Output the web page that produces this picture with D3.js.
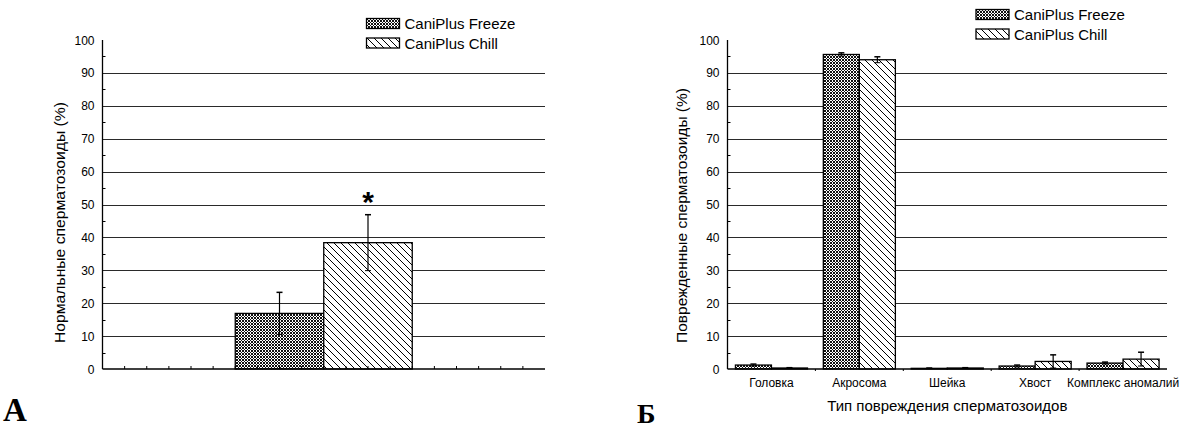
<!DOCTYPE html>
<html>
<head>
<meta charset="utf-8">
<script src="https://cdn.jsdelivr.net/npm/d3@7"></script>
<style>
  body { margin: 0; background: #fff; }
  text { font-family: Arial, "Liberation Sans", sans-serif; fill: #000; }
</style>
</head>
<body>
<svg id="chart" width="1182" height="429"></svg>
<script>
// data
const seriesNames = ["CaniPlus Freeze", "CaniPlus Chill"];
const yTicks = [0, 10, 20, 30, 40, 50, 60, 70, 80, 90, 100];

// panel A: normal sperm, one group
const normalMean = [16.9, 38.4];
const normalErr = [6.4, 8.5];

// panel B: damage types
const damageTypes = ["Головка", "Акросома", "Шейка", "Хвост", "Комплекс аномалий"];
const freezeDamage = [1.2, 95.6, 0.2, 0.9, 1.8];
const freezeErr = [0.3, 0.5, 0.1, 0.3, 0.3];
const chillDamage = [0.3, 94.0, 0.3, 2.3, 3.0];
const chillErr = [0.1, 0.9, 0.1, 2.0, 2.1];

const svg = d3.select("#chart");

// patterns
const defs = svg.append("defs");
const pf = defs.append("pattern")
    .attr("id", "freeze")
    .attr("patternUnits", "userSpaceOnUse")
    .attr("width", 3).attr("height", 3);
pf.append("rect").attr("width", 3).attr("height", 3).attr("fill", "#fff");
pf.append("path")
    .attr("d", "M0,0h1v1h-1z M2,0h1v1h-1z M1,1h1v1h-1z M0,2h1v1h-1z M2,2h1v1h-1z")
    .attr("fill", "#111");

const pc = defs.append("pattern")
    .attr("id", "chill")
    .attr("patternUnits", "userSpaceOnUse")
    .attr("width", 7).attr("height", 7);
pc.append("rect").attr("width", 7).attr("height", 7).attr("fill", "#fff");
pc.append("path")
    .attr("d", "M-1,-1L8,8 M-1,6L1,8 M6,-1L8,1")
    .attr("stroke", "#000")
    .attr("stroke-width", 1);

const fills = ["url(#freeze)", "url(#chill)"];

const yTop = 40, yBottom = 369;

function yAxisPanel(g, x0, x1, y, label, labelX, labelLen) {
    // gridlines
    g.selectAll(".grid")
        .data(yTicks.filter(d => d > 0 && d < 100))
        .enter().append("line")
        .attr("x1", x0).attr("x2", x1)
        .attr("y1", d => Math.round(y(d)) + 0.5)
        .attr("y2", d => Math.round(y(d)) + 0.5)
        .attr("stroke", "#2a2a2a")
        .attr("stroke-width", 1.1);

    // minor ticks inside
    g.selectAll(".minor")
        .data(d3.range(5, 100, 10))
        .enter().append("line")
        .attr("x1", x0).attr("x2", x0 + 3)
        .attr("y1", d => Math.round(y(d)) + 0.5)
        .attr("y2", d => Math.round(y(d)) + 0.5)
        .attr("stroke", "#000");

    g.selectAll(".ylab")
        .data(yTicks)
        .enter().append("text")
        .attr("x", x0 - 8)
        .attr("y", d => y(d) + 4.5)
        .attr("text-anchor", "end")
        .style("font-size", "12px")
        .text(d => d);

    g.append("line")
        .attr("x1", x0).attr("x2", x0)
        .attr("y1", y(100)).attr("y2", y(0))
        .attr("stroke", "#000").attr("stroke-width", 1.3);

    g.append("text")
        .attr("transform", `translate(${labelX},343) rotate(-90)`)
        .attr("text-anchor", "start")
        .attr("textLength", labelLen)
        .attr("lengthAdjust", "spacingAndGlyphs")
        .style("font-size", "15px")
        .text(label);
}

function errorBar(g, cx, mean, err, y) {
    const top = y(mean + err), bot = y(Math.max(0, mean - err));
    g.append("line").attr("x1", cx).attr("x2", cx).attr("y1", top).attr("y2", bot)
        .attr("stroke", "#000").attr("stroke-width", 1.2);
    g.append("line").attr("x1", cx - 3).attr("x2", cx + 3).attr("y1", top).attr("y2", top)
        .attr("stroke", "#000").attr("stroke-width", 1.5);
    g.append("line").attr("x1", cx - 3).attr("x2", cx + 3).attr("y1", bot).attr("y2", bot)
        .attr("stroke", "#000").attr("stroke-width", 1);
}

function legend(g, x, y) {
    seriesNames.forEach((name, i) => {
        g.append("rect")
            .attr("x", x).attr("y", y + i * 19.5)
            .attr("width", 33).attr("height", 10)
            .attr("fill", fills[i])
            .attr("stroke", "#000").attr("stroke-width", 1.3);
        g.append("text")
            .attr("x", x + 38).attr("y", y + i * 19.5 + 10.5)
            .style("font-size", "15px")
            .text(name);
    });
}

// ---------- PANEL A ----------
const gA = svg.append("g");
const xA = d3.scaleLinear().domain([0, 20]).range([102.5, 545]);
const yA = d3.scaleLinear().domain([0, 100]).range([yBottom, yTop]);

yAxisPanel(gA, xA(0), xA(20), yA, "Нормальные сперматозоиды (%)", 65, 241);

// bars: group centred at 10, each bar 4 units wide
const barsA = normalMean.map((v, i) => ({ v: v, e: normalErr[i], x0: 6 + i * 4, x1: 10 + i * 4, i: i }));
gA.selectAll(".barA")
    .data(barsA)
    .enter().append("rect")
    .attr("x", d => xA(d.x0))
    .attr("width", d => xA(d.x1) - xA(d.x0))
    .attr("y", d => yA(d.v))
    .attr("height", d => yA(0) - yA(d.v))
    .attr("fill", d => fills[d.i])
    .attr("stroke", "#000")
    .attr("stroke-width", 1.3);

barsA.forEach(d => errorBar(gA, xA((d.x0 + d.x1) / 2), d.v, d.e, yA));

// x axis with small upward ticks
gA.append("line")
    .attr("x1", xA(0)).attr("x2", xA(20))
    .attr("y1", yA(0)).attr("y2", yA(0))
    .attr("stroke", "#000").attr("stroke-width", 1.5);
gA.selectAll(".xtA")
    .data(d3.range(1, 20))
    .enter().append("line")
    .attr("x1", d => xA(d)).attr("x2", d => xA(d))
    .attr("y1", yA(0)).attr("y2", yA(0) - 3)
    .attr("stroke", "#000");

// significance mark
gA.append("text")
    .attr("x", xA(12))
    .attr("y", yA(normalMean[1] + normalErr[1]))
    .attr("dy", -3)
    .attr("text-anchor", "middle")
    .style("font-size", "30px")
    .style("font-weight", "bold")
    .text("*");

legend(gA, 366.5, 18.5);

gA.append("text")
    .attr("x", 3).attr("y", 421)
    .style("font-family", "'Liberation Serif', 'Times New Roman', serif")
    .style("font-size", "33px")
    .style("font-weight", "bold")
    .text("А");

// ---------- PANEL B ----------
const gB = svg.append("g");
const xB = d3.scaleBand().domain(damageTypes).range([727.5, 1167]).padding(0);
const xSub = d3.scaleBand().domain(seriesNames).range([0, xB.bandwidth()]).paddingInner(0).paddingOuter(0.22);
const yB = d3.scaleLinear().domain([0, 100]).range([yBottom, yTop]);

yAxisPanel(gB, xB.range()[0], xB.range()[1], yB, "Поврежденные сперматозоиды (%)", 687, 255);

const barsB = [];
damageTypes.forEach((t, k) => {
    barsB.push({ t: t, s: seriesNames[0], v: freezeDamage[k], e: freezeErr[k], i: 0 });
    barsB.push({ t: t, s: seriesNames[1], v: chillDamage[k], e: chillErr[k], i: 1 });
});

gB.selectAll(".barB")
    .data(barsB)
    .enter().append("rect")
    .attr("x", d => xB(d.t) + xSub(d.s))
    .attr("width", xSub.bandwidth())
    .attr("y", d => yB(d.v))
    .attr("height", d => yB(0) - yB(d.v))
    .attr("fill", d => fills[d.i])
    .attr("stroke", "#000")
    .attr("stroke-width", 1.3);

barsB.forEach(d => errorBar(gB, xB(d.t) + xSub(d.s) + xSub.bandwidth() / 2, d.v, d.e, yB));

gB.append("line")
    .attr("x1", xB.range()[0]).attr("x2", xB.range()[1])
    .attr("y1", yB(0)).attr("y2", yB(0))
    .attr("stroke", "#000").attr("stroke-width", 1.5);
gB.selectAll(".xtB")
    .data(damageTypes.slice(1))
    .enter().append("line")
    .attr("x1", d => xB(d)).attr("x2", d => xB(d))
    .attr("y1", yB(0)).attr("y2", yB(0) + 2)
    .attr("stroke", "#000");

gB.selectAll(".xlab")
    .data(damageTypes)
    .enter().append("text")
    .attr("x", d => xB(d) + xB.bandwidth() / 2)
    .attr("y", 387)
    .attr("text-anchor", "middle")
    .style("font-size", "12px")
    .text(d => d);

gB.append("text")
    .attr("x", (xB.range()[0] + xB.range()[1]) / 2)
    .attr("y", 411)
    .attr("text-anchor", "middle")
    .style("font-size", "15px")
    .text("Тип повреждения сперматозоидов");

legend(gB, 976, 9.5);

gB.append("text")
    .attr("x", 637).attr("y", 423)
    .style("font-family", "'Liberation Serif', 'Times New Roman', serif")
    .style("font-size", "28px")
    .style("font-weight", "bold")
    .text("Б");
</script>
</body>
</html>
